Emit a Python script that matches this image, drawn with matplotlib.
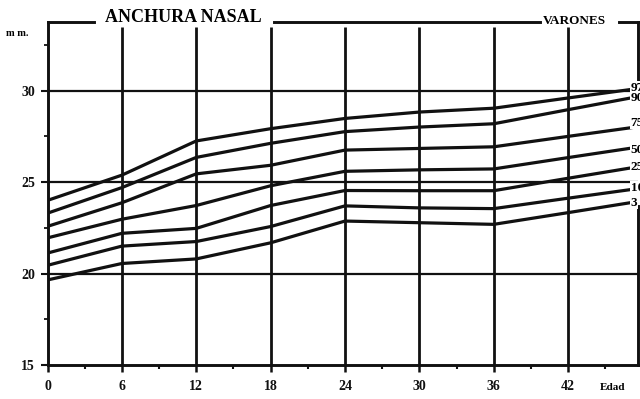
import numpy as np
import matplotlib
matplotlib.use('Agg')
import matplotlib.pyplot as plt

# nasal width (mm) percentiles by age (months), boys
ages = [0, 6, 12, 18, 24, 30, 36, 42, 48]
p97 = [24.0, 25.38, 27.25, 27.92, 28.48, 28.83, 29.04, 29.6, 30.15]
p90 = [23.3, 24.7, 26.35, 27.12, 27.76, 28.01, 28.19, 28.96, 29.72]
p75 = [22.58, 23.87, 25.45, 25.92, 26.75, 26.84, 26.93, 27.5, 28.06]
p50 = [21.95, 22.97, 23.72, 24.8, 25.59, 25.67, 25.72, 26.34, 26.95]
p25 = [21.12, 22.2, 22.47, 23.72, 24.54, 24.53, 24.53, 25.21, 25.88]
p10 = [20.45, 21.5, 21.75, 22.57, 23.7, 23.59, 23.55, 24.12, 24.68]
p3 = [19.65, 20.55, 20.8, 21.68, 22.87, 22.78, 22.69, 23.33, 23.98]

curves = [p97, p90, p75, p50, p25, p10, p3]
curve_labels = ["97", "90", "75", "50", "25", "10", "3"]
label_y = [30.16, 29.6, 28.25, 26.77, 25.8, 24.7, 23.88]

x_ticks = [0, 6, 12, 18, 24, 30, 36, 42]
y_ticks = [15, 20, 25, 30]

plt.rcParams['font.family'] = ['Liberation Serif', 'DejaVu Serif']
plt.rcParams['font.weight'] = 'bold'
ink = '#111111'

W, H = 640, 399
fig = plt.figure(figsize=(6.4, 3.99), dpi=100)
ax = fig.add_axes([47.5 / W, (H - 365) / H, 590 / W, (365 - 21.7) / H])
xmax, ymax = 47.6, 33.77
ax.set_xlim(0, xmax)
ax.set_ylim(15, ymax)

# grid
ax.hlines([20, 25, 30], 0, xmax, color=ink, lw=1.6, zorder=1)
ax.vlines(x_ticks[1:], 15, 33.49, color=ink, lw=2.0, zorder=1)

for vals in curves:
    ax.plot(ages, vals, color=ink, lw=2.3, solid_capstyle='butt', zorder=2)

for lab, yv in zip(curve_labels, label_y):
    ax.text(47.05, yv, lab, fontsize=9.5, fontweight='bold', va='center',
            ha='left', clip_on=False, zorder=5,
            bbox=dict(facecolor='white', edgecolor='none', pad=0.4))

# frame: top line broken by the headings, right side hidden behind labels
for s in ['left', 'bottom']:
    ax.spines[s].set_linewidth(2.1)
    ax.spines[s].set_color(ink)
ax.spines['top'].set_visible(False)
ax.spines['right'].set_linewidth(2.1)
ax.spines['right'].set_color(ink)
ax.spines['right'].set_bounds(15, 23.7)
for x0, x1 in [(0, 3.76), (18.25, 39.7), (46.07, xmax)]:
    ax.plot([x0, x1], [ymax, ymax], color=ink, lw=2.1, clip_on=False,
            solid_capstyle='projecting')
ax.plot([xmax, xmax], [30.4, ymax], color=ink, lw=2.1, clip_on=False)

fig.text(105 / W, 1 - 21.7 / H, "ANCHURA NASAL", fontsize=13, fontweight='bold',
         ha='left', va='baseline')
fig.text(574 / W, 1 - 21.5 / H, "VARONES", fontsize=9.5, fontweight='bold',
         ha='center', va='center')
fig.text(6 / W, 1 - 33 / H, "m m.", fontsize=7.5, fontweight='bold',
         ha='left', va='center')
fig.text(613 / W, 1 - 387 / H, "Edad", fontsize=8, fontweight='bold',
         ha='center', va='center')

ax.set_xticks(x_ticks)
ax.set_xticks(np.arange(3, 46, 6), minor=True)
ax.set_yticks(y_ticks)
ax.set_yticks([17.5, 22.5, 27.5, 32.5], minor=True)
ax.tick_params(axis='x', which='major', direction='out', length=5, width=1.8,
               pad=6, labelsize=10, colors=ink)
ax.tick_params(axis='x', which='minor', direction='out', length=3, width=1.5,
               colors=ink)
ax.tick_params(axis='y', which='major', direction='out', length=5, width=1.5,
               pad=4, labelsize=10, colors=ink)
ax.tick_params(axis='y', which='minor', direction='out', length=3, width=1.3,
               colors=ink)
for t in ax.get_xticklabels() + ax.get_yticklabels():
    t.set_fontweight('bold')

fig.savefig('out.png', dpi=100, facecolor='white')
